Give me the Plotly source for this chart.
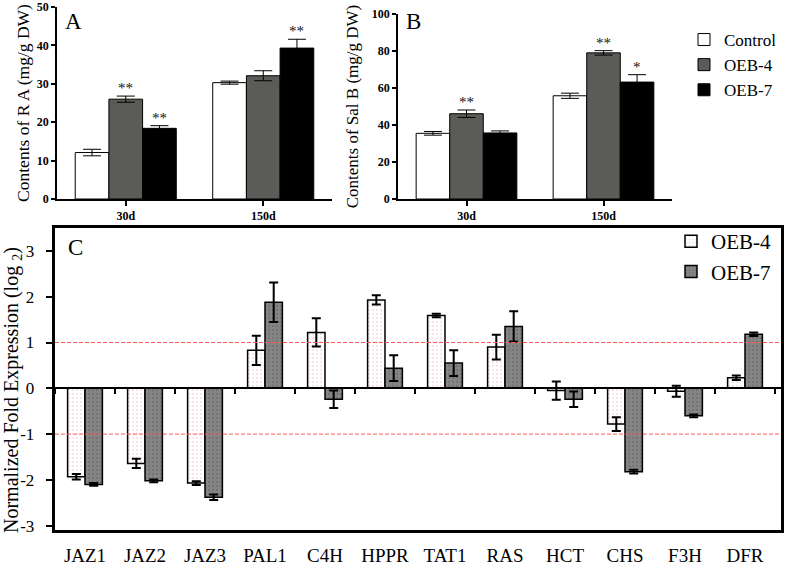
import plotly.graph_objects as go

W, H = 787, 568
SERIF = "Liberation Serif"

# ---------------- data ----------------
days = ["30d", "150d"]
groups_ab = ["Control", "OEB-4", "OEB-7"]

ra_control = [12.1, 30.3]
ra_oeb4 = [26.0, 32.1]
ra_oeb7 = [18.4, 39.3]
ra_control_err = [0.85, 0.4]
ra_oeb4_err = [0.8, 1.3]
ra_oeb7_err = [0.7, 2.3]
ra_stars = [["", ""], ["**", ""], ["**", "**"]]

salb_control = [35.5, 55.8]
salb_oeb4 = [46.1, 79.0]
salb_oeb7 = [35.7, 63.2]
salb_control_err = [1.0, 1.4]
salb_oeb4_err = [2.0, 1.2]
salb_oeb7_err = [1.1, 4.0]
salb_stars = [["", ""], ["**", "**"], ["", "*"]]

genes = ["JAZ1", "JAZ2", "JAZ3", "PAL1", "C4H", "HPPR", "TAT1", "RAS", "HCT", "CHS", "F3H", "DFR"]
expr_oeb4 = [-1.93, -1.64, -2.07, 0.83, 1.22, 1.93, 1.59, 0.90, -0.05, -0.78, -0.065, 0.23]
expr_oeb4_err = [0.06, 0.10, 0.04, 0.32, 0.31, 0.10, 0.04, 0.27, 0.20, 0.15, 0.12, 0.05]
expr_oeb7 = [-2.10, -2.02, -2.38, 1.88, -0.24, 0.44, 0.55, 1.35, -0.24, -1.82, -0.60, 1.18]
expr_oeb7_err = [0.03, 0.03, 0.06, 0.43, 0.19, 0.28, 0.28, 0.33, 0.17, 0.04, 0.03, 0.04]
c_ticks = [3, 2, 1, 0, -1, -2, -3]
c_ticktext = ["3", "2", "1", "0", "-1", "-2", "-3"]
thresholds = [1, -1]

# ---------------- layout helpers ----------------
def px_x(p):
    return p / W

def px_y(p):
    return 1 - p / H

fig = go.Figure()

ab_colors = ["#ffffff", "#5b5b57", "#000000"]
ab_w = 0.245
ab_offsets = [-0.3675, -0.1225, 0.1225]

A_vals = [ra_control, ra_oeb4, ra_oeb7]
A_errs = [ra_control_err, ra_oeb4_err, ra_oeb7_err]
B_vals = [salb_control, salb_oeb4, salb_oeb7]
B_errs = [salb_control_err, salb_oeb4_err, salb_oeb7_err]

for i, name in enumerate(groups_ab):
    fig.add_trace(go.Bar(
        x=days, y=A_vals[i], name=name, width=ab_w, offset=ab_offsets[i],
        marker=dict(color=ab_colors[i], line=dict(color="black", width=1)),
        error_y=dict(type="data", array=A_errs[i], color="black", thickness=1, width=9),
        xaxis="x", yaxis="y", legend="legend", showlegend=True,
    ))
    fig.add_trace(go.Bar(
        x=days, y=B_vals[i], name=name, width=ab_w, offset=ab_offsets[i],
        marker=dict(color=ab_colors[i], line=dict(color="black", width=1)),
        error_y=dict(type="data", array=B_errs[i], color="black", thickness=1, width=9),
        xaxis="x2", yaxis="y2", showlegend=False,
    ))

annotations = []
for i in range(3):
    for j in range(2):
        for vals, errs, stars, xr, yr in [(A_vals, A_errs, ra_stars, "x", "y"),
                                          (B_vals, B_errs, salb_stars, "x2", "y2")]:
            s = stars[i][j]
            if s:
                annotations.append(dict(
                    x=j + ab_offsets[i] + ab_w / 2, y=vals[i][j] + errs[i][j],
                    xref=xr, yref=yr, text=s, showarrow=False, yanchor="bottom",
                    yshift=-2, font=dict(family=SERIF, size=15, color="#111")))

c_w = 0.29
fig.add_trace(go.Bar(
    x=genes, y=expr_oeb4, name="OEB-4", width=c_w, offset=-c_w,
    marker=dict(color="#ffffff", line=dict(color="black", width=1.5),
                pattern=dict(shape=".", fgcolor="#f2c6cf", bgcolor="#ffffff", size=4, solidity=0.25)),
    error_y=dict(type="data", array=expr_oeb4_err, color="black", thickness=2, width=4.5),
    xaxis="x3", yaxis="y3", legend="legend2",
))
fig.add_trace(go.Bar(
    x=genes, y=expr_oeb7, name="OEB-7", width=c_w, offset=0,
    marker=dict(color="#808080", line=dict(color="black", width=1.5),
                pattern=dict(shape=".", fgcolor="#606060", bgcolor="#858585", size=4, solidity=0.25)),
    error_y=dict(type="data", array=expr_oeb7_err, color="black", thickness=2, width=4.5),
    xaxis="x3", yaxis="y3", legend="legend2",
))
# invisible trace carrying the zero-line axis categories
fig.add_trace(go.Scatter(x=genes, y=[0] * len(genes), mode="markers",
                         marker=dict(opacity=0), showlegend=False, hoverinfo="skip",
                         xaxis="x4", yaxis="y3"))

# ---------------- axes ----------------
tick_bold = dict(family=SERIF, size=12, color="black", weight="bold")
A_dom_x = [px_x(57), px_x(332)]
A_dom_y = [px_y(199), px_y(7)]
B_dom_x = [px_x(398), px_x(672)]
B_dom_y = [px_y(199), px_y(14)]
C_dom_x = [px_x(55), px_x(781)]
C_dom_y = [px_y(530), px_y(228)]
c_range = [-3.094, 3.5]
zero_pos = C_dom_y[0] + (0 - c_range[0]) / (c_range[1] - c_range[0]) * (C_dom_y[1] - C_dom_y[0])
NBSP = "\u00a0"

common_x_ab = dict(type="category", range=[-0.5, 1.5], showline=True, linecolor="black",
                   linewidth=1.5, ticks="outside", ticklen=5, tickwidth=1.5, tickcolor="black",
                   tickfont=tick_bold, showgrid=False, zeroline=False, automargin=False)
common_y_ab = dict(showline=True, linecolor="black", linewidth=1.5, ticks="outside", ticklen=4,
                   tickwidth=1.5, tickcolor="black", tickfont=tick_bold, showgrid=False,
                   zeroline=False, automargin=False)

fig.update_layout(
    width=W, height=H, margin=dict(l=0, r=0, t=0, b=0, autoexpand=False),
    paper_bgcolor="white", plot_bgcolor="rgba(0,0,0,0)",
    barmode="overlay",
    xaxis=dict(domain=A_dom_x, anchor="y", **common_x_ab),
    yaxis=dict(domain=A_dom_y, anchor="x", range=[0, 50], dtick=10,
               title=dict(text="Contents of R A (mg/g DW)", font=dict(family=SERIF, size=17.5, color="black"), standoff=3),
               **common_y_ab),
    xaxis2=dict(domain=B_dom_x, anchor="y2", **common_x_ab),
    yaxis2=dict(domain=B_dom_y, anchor="x2", range=[0, 100], dtick=20,
                title=dict(text="Contents of Sal B (mg/g DW)", font=dict(family=SERIF, size=17, color="black"), standoff=9),
                **common_y_ab),
    xaxis3=dict(domain=C_dom_x, anchor="y3", type="category", range=[-0.5, 11.6],
                showline=True, mirror=True, linecolor="black", linewidth=2.5,
                ticks="outside", ticklen=6, tickcolor="rgba(0,0,0,0)",
                tickfont=dict(family=SERIF, size=19, color="black"),
                showgrid=False, zeroline=False, automargin=False),
    xaxis4=dict(overlaying="x3", anchor="free", position=zero_pos, type="category",
                range=[-0.5, 11.6], showline=True, linecolor="black", linewidth=2,
                ticks="outside", tickson="boundaries", ticklen=5, tickwidth=2, tickcolor="black",
                showticklabels=False, showgrid=False, zeroline=False, automargin=False),
    yaxis3=dict(domain=C_dom_y, anchor="x3", range=c_range, tickmode="array",
                tickvals=c_ticks, ticktext=[t + NBSP * 2 for t in c_ticktext],
                showline=True, mirror=True, linecolor="black", linewidth=2.5,
                ticks="outside", ticklen=6, tickwidth=1.5, tickcolor="black",
                tickfont=dict(family=SERIF, size=17, color="black"),
                showgrid=False, zeroline=False, automargin=False),
    legend=dict(x=px_x(684), y=px_y(22), xanchor="left", yanchor="top",
                font=dict(family=SERIF, size=17, color="black"), traceorder="normal",
                bgcolor="rgba(0,0,0,0)"),
    legend2=dict(x=px_x(671), y=px_y(221), xanchor="left", yanchor="top",
                 font=dict(family=SERIF, size=21, color="black"), tracegroupgap=2,
                 bgcolor="rgba(0,0,0,0)"),
    annotations=annotations + [
        dict(x=px_x(73), y=px_y(22), xref="paper", yref="paper", text="A", showarrow=False,
             xanchor="center", yanchor="middle", font=dict(family=SERIF, size=23, color="black")),
        dict(x=px_x(413), y=px_y(22), xref="paper", yref="paper", text="B", showarrow=False,
             xanchor="center", yanchor="middle", font=dict(family=SERIF, size=23, color="black")),
        dict(x=px_x(75), y=px_y(248), xref="paper", yref="paper", text="C", showarrow=False,
             xanchor="center", yanchor="middle", font=dict(family=SERIF, size=23, color="black")),
        dict(x=px_x(12), y=px_y(390), xref="paper", yref="paper",
             text="Normalized Fold Expression (log <sub>2</sub>)", textangle=-90, showarrow=False,
             xanchor="center", yanchor="middle", font=dict(family=SERIF, size=20, color="black")),
    ],
)

for t in thresholds:
    fig.add_shape(type="line", xref="x3 domain", x0=0, x1=1, yref="y3", y0=t, y1=t,
                  line=dict(color="#ff5a5a", width=1, dash="4px,2px"), layer="above")

fig.write_html("out.html", config={"displayModeBar": False},
               post_script="document.body.style.margin='0';document.body.style.overflow='hidden';")
